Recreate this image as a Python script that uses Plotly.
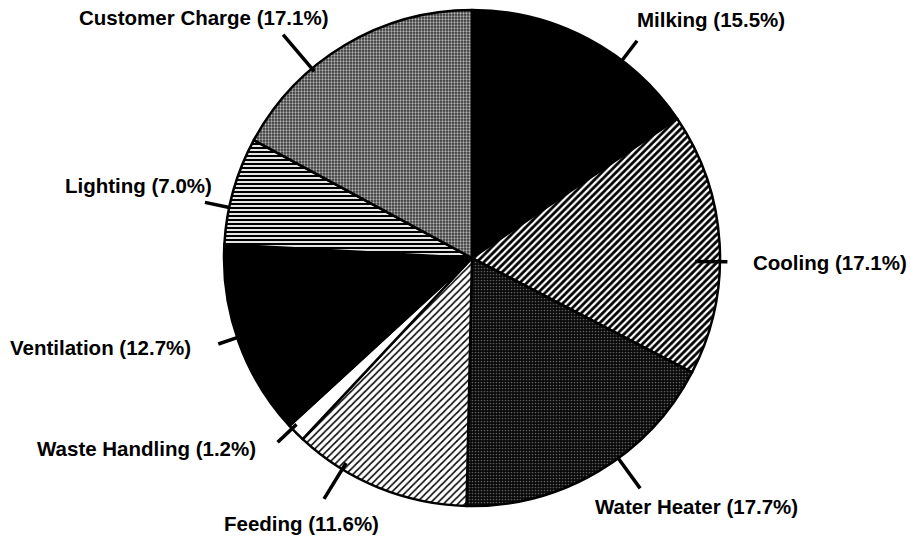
import math
import plotly.graph_objects as go

# ---- data ----
labels = ["Milking", "Cooling", "Water Heater", "Feeding", "Waste Handling",
          "Ventilation", "Lighting", "Customer Charge"]
values = [15.5, 17.1, 17.7, 11.6, 1.2, 12.7, 7.0, 17.1]

# ---- layout / style ----
W, H = 911, 545
CX, CY, R = 472, 258, 248           # pie centre and radius in pixels

base_colors = ["#000000", "#000000", "#111111", "#ffffff", "#ffffff", "#000000", "#000000", "#5a5a5a"]
pat_shape = ["", "/", ".", "/", "", "", "-", "."]
pat_fg = ["#000000", "#ffffff", "#5c5c5c", "#000000", "#ffffff", "#000000", "#ffffff", "#b4b4b4"]
pat_bg = ["#000000", "#000000", "#080808", "#ffffff", "#ffffff", "#000000", "#000000", "#363636"]
pat_size = [8, 5, 3, 5, 8, 8, 4, 3]
pat_solid = [0.3, 0.45, 0.25, 0.3, 0.3, 0.3, 0.45, 0.45]

# leader-line placement (angle offset from slice middle, inner/outer radius ratio)
lead_off = [9.3, 4.2, -5.5, 9.4, 1.3, 1.0, -4.0, -9.4]
lead_in = [1.0, 0.9, 0.995, 0.97, 0.975, 1.0, 1.0, 0.985]
lead_out = [1.10, 1.03, 1.15, 1.14, 1.08, 1.08, 1.10, 1.18]
# text anchoring relative to leader end (xanchor, xshift, yshift)
txt_anchor = [("left", -2, 21), ("left", 24, -1), ("center", 56, -18), ("center", -23, -25),
              ("right", -20, -6), ("right", -25, -3), ("right", 9, 17), ("center", -80, 17)]

FONT = dict(family="Liberation Sans, Arial, sans-serif", size=20.5, color="#000000")


def px(x):
    return x / W


def py(y):
    return 1 - y / H


fig = go.Figure()
fig.add_trace(go.Pie(
    labels=labels, values=values, sort=False, direction="clockwise", rotation=0,
    textinfo="none", hoverinfo="label+value", showlegend=False,
    marker=dict(colors=base_colors, line=dict(color="#000000", width=2.5),
                pattern=dict(shape=pat_shape, fgcolor=pat_fg, bgcolor=pat_bg,
                             size=pat_size, solidity=pat_solid, fillmode="replace")),
    domain=dict(x=[px(CX - R), px(CX + R)], y=[py(CY + R), py(CY - R)]),
))

total = sum(values)
cum = 0.0
shapes = []
annotations = []
for i, (lab, v) in enumerate(zip(labels, values)):
    mid = (cum + v / 2) / total * 360.0
    cum += v
    a = math.radians(mid + lead_off[i])
    x0 = CX + R * lead_in[i] * math.sin(a)
    y0 = CY - R * lead_in[i] * math.cos(a)
    x1 = CX + R * lead_out[i] * math.sin(a)
    y1 = CY - R * lead_out[i] * math.cos(a)
    shapes.append(dict(type="line", xref="paper", yref="paper",
                       x0=px(x0), y0=py(y0), x1=px(x1), y1=py(y1),
                       line=dict(color="#000000", width=3.5)))
    xa, xs, ys = txt_anchor[i]
    annotations.append(dict(text=f"<b>{lab} ({v:.1f}%)</b>", xref="paper", yref="paper",
                            x=px(x1), y=py(y1), xanchor=xa, yanchor="middle",
                            xshift=xs, yshift=ys, showarrow=False, font=FONT))

fig.update_layout(
    width=W, height=H, margin=dict(l=0, r=0, t=0, b=0),
    paper_bgcolor="#ffffff", plot_bgcolor="#ffffff",
    shapes=shapes, annotations=annotations,
)
fig.write_html("out.html", config={"displayModeBar": False},
               post_script="document.body.style.margin='0';document.body.style.overflow='hidden';")
